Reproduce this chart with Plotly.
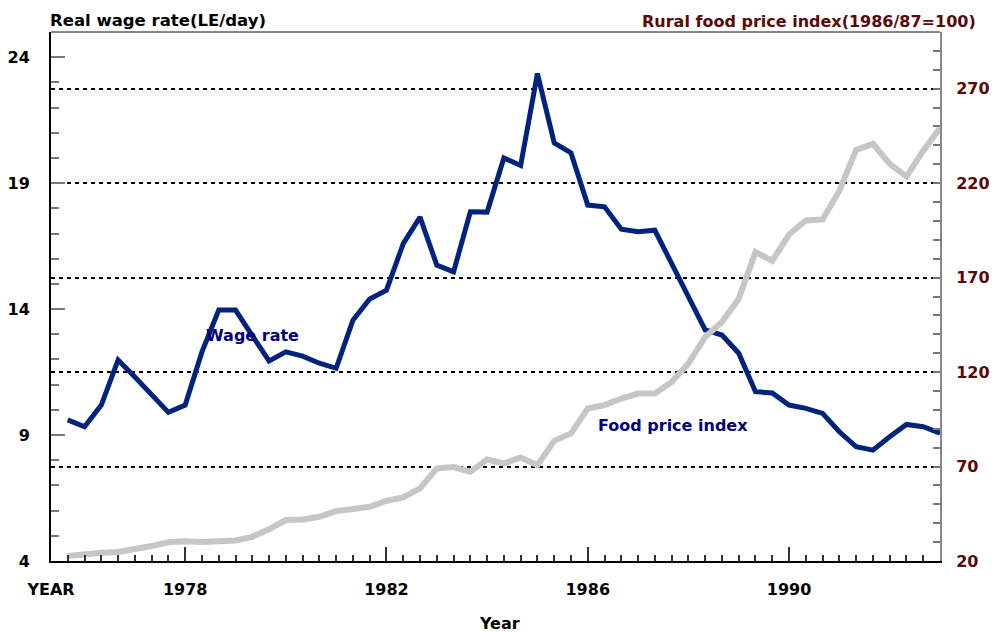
import plotly.graph_objects as go

# x positions: one point per period (index); labels placed on the index scale
period_index = list(range(53))
wage_rate = [9.6, 9.33, 10.19, 11.98, 11.3, 10.6, 9.9, 10.19, 12.3, 13.96,
             13.96, 12.95, 11.94, 12.3, 12.13, 11.85, 11.65, 13.56, 14.4, 14.75,
             16.6, 17.65, 15.75, 15.48, 17.86, 17.85, 20.0, 19.7, 23.35, 20.6,
             20.2, 18.13, 18.06, 17.17, 17.07, 17.13, 15.81, 14.49, 13.17, 12.97,
             12.25, 10.72, 10.67, 10.19, 10.06, 9.86, 9.13, 8.54, 8.4, 8.93,
             9.42, 9.33, 9.07]
food_price_index = [22.6, 23.7, 24.4, 24.8, 26.2, 27.9, 29.9, 30.4, 30.0, 30.2,
                    30.9, 32.8, 36.8, 41.7, 42.0, 43.4, 46.4, 47.5, 48.7, 51.9,
                    53.7, 58.4, 69.0, 69.7, 67.2, 73.7, 71.6, 74.8, 70.7, 83.6,
                    87.5, 100.7, 102.5, 106.0, 108.6, 108.6, 114.8, 124.5, 138.6, 146.5,
                    158.8, 183.5, 178.9, 192.8, 200.2, 200.8, 216.0, 237.6, 240.8, 230.2,
                    223.5, 237.2, 249.2]

x_major_ticks = [-1, 3, 7, 11, 15, 19, 23, 27, 31, 35, 39, 43, 47, 51]
x_tick_text = ["YEAR", "", "1978", "", "", "1982", "", "", "1986", "", "", "1990", "", ""]
left_ticks = [4, 9, 14, 19, 24]
right_ticks = [20, 70, 120, 170, 220, 270]

FONT = "DejaVu Sans"
MAROON = "#5a0808"

fig = go.Figure()
fig.add_trace(go.Scatter(x=period_index, y=food_price_index, yaxis="y2", mode="lines",
                         line=dict(color="#c6c6c6", width=6), showlegend=False))
fig.add_trace(go.Scatter(x=period_index, y=wage_rate, yaxis="y", mode="lines",
                         line=dict(color="#00247d", width=5), showlegend=False))

fig.update_layout(
    width=991, height=627,
    margin=dict(l=43, r=59, t=24, b=74, autoexpand=False),
    paper_bgcolor="white", plot_bgcolor="white",
    font=dict(family=FONT, size=16, color="black", weight="bold"),
    xaxis=dict(range=[-1, 52], tickmode="array", tickvals=x_major_ticks, ticktext=x_tick_text,
               ticks="inside", ticklen=14, tickwidth=1.5, tickcolor="#333333",
               showline=True, linecolor="black", linewidth=2, showgrid=False, zeroline=False,
               ticklabelstandoff=13, automargin=False,
               tickfont=dict(family=FONT, size=16, color="black", weight="bold"),
               minor=dict(tickmode="array", tickvals=period_index, ticks="inside",
                          ticklen=6, tickwidth=1.5, tickcolor="#333333", showgrid=False)),
    yaxis=dict(range=[4, 25], tickmode="array", tickvals=left_ticks,
               ticks="inside", ticklen=14, tickwidth=1.5, tickcolor="#777777",
               showline=True, linecolor="black", linewidth=2, showgrid=False, zeroline=False,
               ticklabelstandoff=16, automargin=False,
               tickfont=dict(family=FONT, size=16, color="black", weight="bold"),
               minor=dict(tickmode="linear", tick0=4, dtick=1, ticks="inside",
                          ticklen=8, tickwidth=1.5, tickcolor="#777777", showgrid=False)),
    yaxis2=dict(range=[20, 300], overlaying="y", side="right", tickmode="array",
                tickvals=right_ticks, ticks="inside", ticklen=7, tickwidth=1.5,
                tickcolor="#777777", showline=True, linecolor="#888888", linewidth=2,
                showgrid=True, gridcolor="black", gridwidth=2, griddash="4px,4px",
                zeroline=False, ticklabelstandoff=11, automargin=False,
                tickfont=dict(family=FONT, size=16, color=MAROON, weight="bold"),
                minor=dict(tickmode="linear", tick0=20, dtick=10, ticks="inside",
                           ticklen=7, tickwidth=1.5, tickcolor="#777777", showgrid=False)),
    shapes=[dict(type="line", xref="paper", yref="paper", x0=0, x1=1, y0=1, y1=1,
                 line=dict(color="#888888", width=2))],
    annotations=[
        dict(text="Real wage rate(LE/day)", xref="paper", yref="paper", x=-0.003, y=1.022,
             xanchor="left", yanchor="middle", showarrow=False,
             font=dict(family=FONT, size=16.5, color="black", weight="bold")),
        dict(text="Rural food price index(1986/87=100)", xref="paper", yref="paper",
             x=1.0428, y=1.02, xanchor="right", yanchor="middle", showarrow=False,
             font=dict(family=FONT, size=16, color=MAROON, weight="bold")),
        dict(text="Wage rate", xref="x", yref="y", x=11.0, y=12.97, showarrow=False,
             xanchor="center", yanchor="middle",
             font=dict(family=FONT, size=16, color="#000080", weight="bold")),
        dict(text="Food price index", xref="x", yref="y", x=36.1, y=9.36, showarrow=False,
             xanchor="center", yanchor="middle",
             font=dict(family=FONT, size=16, color="#000080", weight="bold")),
        dict(text="Year", xref="paper", yref="paper", x=0.505, y=-0.119, showarrow=False,
             xanchor="center", yanchor="middle",
             font=dict(family=FONT, size=16, color="black", weight="bold")),
    ],
)

fig.write_html("out.html")
